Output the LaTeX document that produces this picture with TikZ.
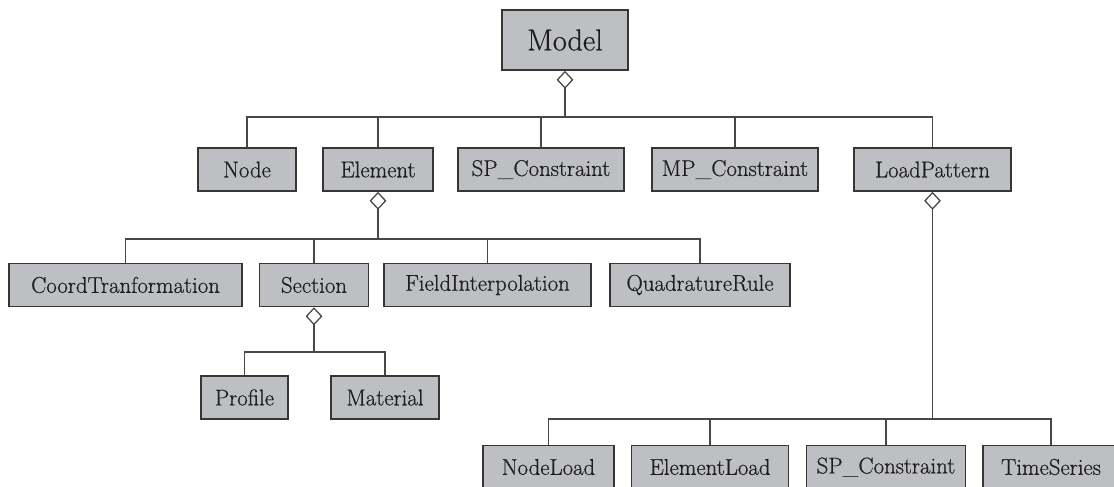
\documentclass[tikz,border=0pt]{standalone}
\usepackage{fontspec}
\usepackage{tikz}
\usetikzlibrary{arrows.meta}
\newfontfamily\boxfont{Latin Modern Roman}[FakeBold=0.6]
\definecolor{boxGray}{HTML}{BEBFC3}
\definecolor{boxEdge}{HTML}{363636}
\definecolor{lineGray}{HTML}{474747}
\definecolor{textDark}{HTML}{1E1E1E}

\begin{document}
\begin{tikzpicture}[
    x=0.025cm, y=-0.025cm,
    classbox/.style={draw=boxEdge, fill=boxGray, line width=1.1pt, minimum height=1.075cm,
        inner sep=2pt, text=textDark, font=\boxfont\fontsize{16.2}{19}\selectfont},
    conn/.style={draw=lineGray, line width=0.9pt},
    agg/.style={conn, {Diamond[open, length=0.45cm, width=0.42cm, line width=0.9pt]}-},
]
    \useasboundingbox (0,0) rectangle (1114,487);

    % Root
    \node[classbox, minimum width=3.15cm, minimum height=1.5cm, font=\boxfont\fontsize{21.5}{24}\selectfont] (model) at (565,40) {Model};

    % First level
    \node[classbox, minimum width=2.45cm] (node) at (247,169.5) {Node};
    \node[classbox, minimum width=2.75cm] (element) at (378,169.5) {Element};
    \node[classbox, minimum width=4.15cm] (spcon) at (541,169.5) {SP\_Constraint};
    \node[classbox, minimum width=4.15cm] (mpcon) at (735,169.5) {MP\_Constraint};
    \node[classbox, minimum width=3.925cm] (loadpat) at (932.5,169.5) {LoadPattern};

    % Element parts
    \node[classbox, minimum width=5.825cm] (coordtr) at (125.5,285) {CoordTranformation};
    \node[classbox, minimum width=2.725cm] (section) at (314,285) {Section};
    \node[classbox, minimum width=5.175cm] (fieldint) at (487.5,285) {FieldInterpolation};
    \node[classbox, minimum width=4.5cm] (quadrule) at (700,285) {QuadratureRule};

    % Section parts
    \node[classbox, minimum width=2.175cm] (profile) at (244.5,397.5) {Profile};
    \node[classbox, minimum width=2.7cm] (material) at (385,397.5) {Material};

    % LoadPattern parts
    \node[classbox, minimum width=3.275cm] (nodeload) at (548.5,467) {NodeLoad};
    \node[classbox, minimum width=3.925cm] (elemload) at (710,467) {ElementLoad};
    \node[classbox, minimum width=3.975cm] (spcon2) at (886,467) {SP\_Constraint};
    \node[classbox, minimum width=3.4cm] (timeser) at (1051,467) {TimeSeries};

    % Junctions
    \coordinate (modeljoin) at (565,117);
    \coordinate (elemjoin) at (378,239);
    \coordinate (secjoin) at (314,352);
    \coordinate (loadjoin) at (932.5,419);

    % Aggregations
    \draw[agg] (model) -- (modeljoin);
    \draw[conn] (modeljoin) -| (node);
    \draw[conn] (modeljoin) -| (element);
    \draw[conn] (modeljoin) -| (spcon);
    \draw[conn] (modeljoin) -| (mpcon);
    \draw[conn] (modeljoin) -| (loadpat);

    \draw[agg] (element) -- (elemjoin);
    \draw[conn] (elemjoin) -| (coordtr);
    \draw[conn] (elemjoin) -| (section);
    \draw[conn] (elemjoin) -| (fieldint);
    \draw[conn] (elemjoin) -| (quadrule);

    \draw[agg] (section) -- (secjoin);
    \draw[conn] (secjoin) -| (profile);
    \draw[conn] (secjoin) -| (material);

    \draw[agg] (loadpat) -- (loadjoin);
    \draw[conn] (loadjoin) -| (nodeload);
    \draw[conn] (loadjoin) -| (elemload);
    \draw[conn] (loadjoin) -| (spcon2);
    \draw[conn] (loadjoin) -| (timeser);
\end{tikzpicture}
\end{document}
